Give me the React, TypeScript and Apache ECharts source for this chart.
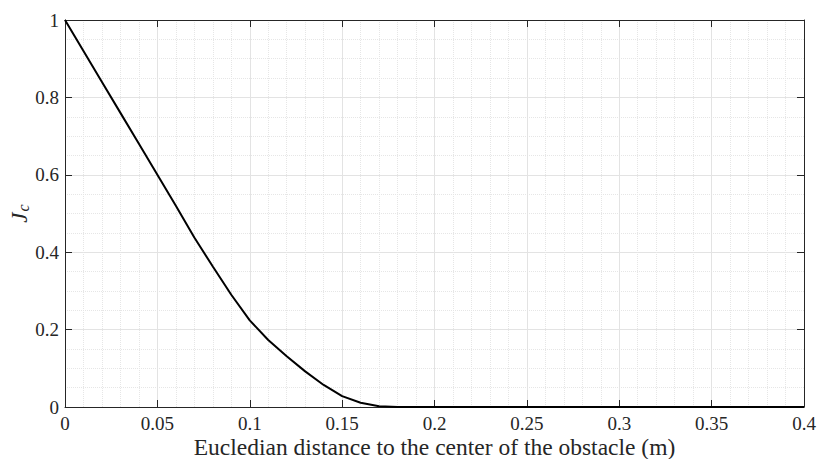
import React, { useEffect, useRef } from "react";
import * as echarts from "echarts";

const distance = [
  0, 0.01, 0.02, 0.03, 0.04, 0.05, 0.06, 0.07, 0.08, 0.09, 0.1, 0.11, 0.12,
  0.13, 0.14, 0.15, 0.16, 0.17, 0.18, 0.2, 0.25, 0.3, 0.35, 0.4,
];
const jc = [
  1, 0.92, 0.84, 0.76, 0.68, 0.6, 0.52, 0.438, 0.363, 0.29, 0.224, 0.173,
  0.131, 0.092, 0.057, 0.028, 0.011, 0.002, 0, 0, 0, 0, 0, 0,
];
const xTicks = { min: 0, max: 0.4, interval: 0.05 };
const yTicks = { min: 0, max: 1, interval: 0.2 };
const xTitle = "Eucledian distance to the center of the obstacle (m)";

const FONT = "'Liberation Serif', 'DejaVu Serif', serif";
const AXIS = "#262626";
const fmt = (v: number) => String(+v.toFixed(2));

export default function App() {
  const ref = useRef<HTMLDivElement>(null);
  useEffect(() => {
    if (!ref.current) return;
    const chart = echarts.init(ref.current, undefined, { renderer: "svg" });
    const axisLine = { show: true, onZero: false, lineStyle: { color: AXIS, width: 1 } };
    const axisTick = { show: true, inside: true, length: 7, lineStyle: { color: AXIS, width: 1 } };
    const label = { fontFamily: FONT, fontSize: 19, color: "#262626" };
    chart.setOption({
      animation: false,
      backgroundColor: "#ffffff",
      grid: {
        left: 65,
        right: 15,
        top: 20,
        bottom: 52,
        containLabel: false,
        outerBoundsMode: "none",
      },
      xAxis: [
        {
          type: "value",
          ...xTicks,
          position: "bottom",
          axisLine,
          axisTick,
          axisLabel: { ...label, margin: 7, formatter: fmt },
          minorTick: { show: false, splitNumber: 5 },
          splitLine: { show: true, lineStyle: { color: "#e3e3e3", width: 1 } },
          minorSplitLine: { show: true, lineStyle: { color: "#e6e6e6", width: 1, type: "dotted" } },
          name: xTitle,
          nameLocation: "middle",
          nameGap: 28,
          nameMoveOverlap: false,
          nameTextStyle: { fontFamily: FONT, fontSize: 23.5, color: "#262626", lineHeight: 24 },
        },
        {
          type: "value",
          ...xTicks,
          position: "top",
          axisLine,
          axisTick,
          axisLabel: { show: false },
          splitLine: { show: false },
        },
      ],
      yAxis: [
        {
          type: "value",
          ...yTicks,
          position: "left",
          axisLine,
          axisTick,
          axisLabel: { ...label, margin: 6, formatter: fmt },
          minorTick: { show: false, splitNumber: 4 },
          splitLine: { show: true, lineStyle: { color: "#e3e3e3", width: 1 } },
          minorSplitLine: { show: true, lineStyle: { color: "#e6e6e6", width: 1, type: "dotted" } },
          name: "{j|J}{c|c}",
          nameLocation: "middle",
          nameRotate: 90,
          nameGap: 34,
          nameMoveOverlap: false,
          nameTextStyle: {
            rich: {
              j: { fontFamily: FONT, fontStyle: "italic", fontSize: 23, color: "#262626", lineHeight: 24 },
              c: { fontFamily: FONT, fontStyle: "italic", fontSize: 16, color: "#262626", verticalAlign: "bottom", padding: [8, 0, 0, 1] },
            },
          },
        },
        {
          type: "value",
          ...yTicks,
          position: "right",
          axisLine,
          axisTick,
          axisLabel: { show: false },
          splitLine: { show: false },
        },
      ],
      series: [
        {
          type: "line",
          data: distance.map((d, i) => [d, jc[i]]),
          showSymbol: false,
          lineStyle: { color: "#000000", width: 2 },
          clip: true,
        },
      ],
    });
    return () => chart.dispose();
  }, []);
  return (
    <div
      ref={ref}
      style={{ position: "fixed", left: 0, top: 0, width: 819, height: 459 }}
    />
  );
}
